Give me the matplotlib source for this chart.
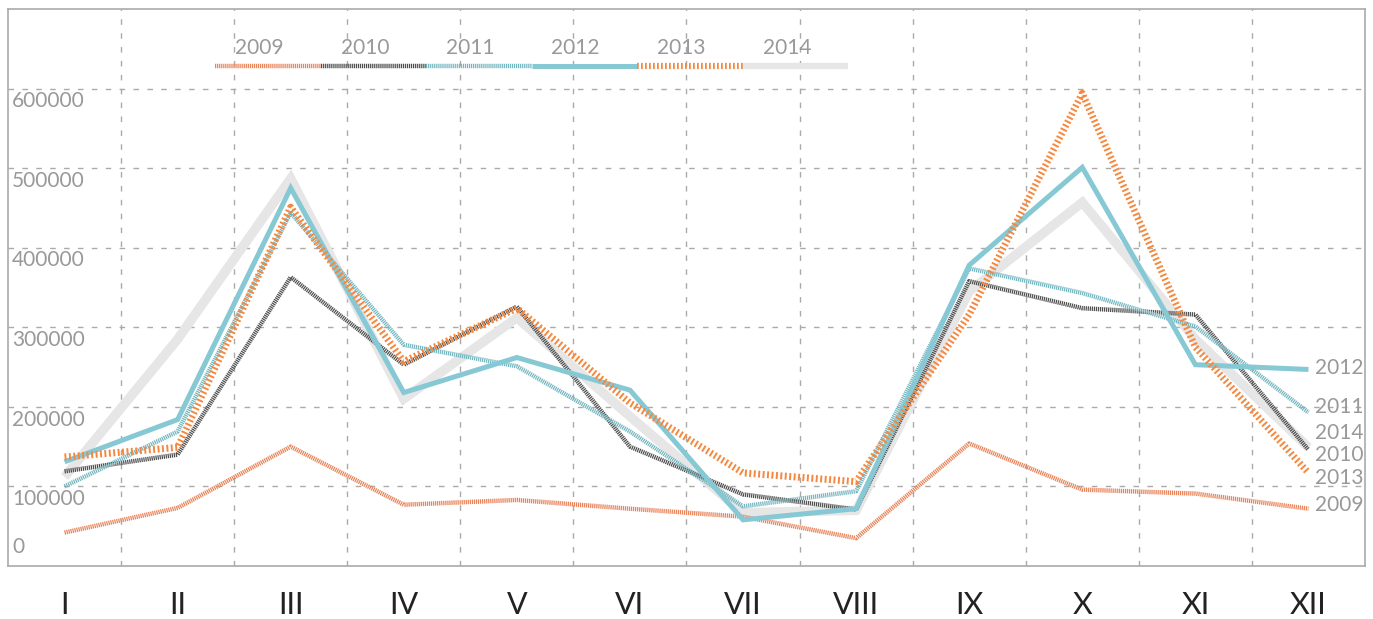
import matplotlib
matplotlib.use("Agg")
import matplotlib.pyplot as plt
from matplotlib.lines import Line2D

plt.rcParams['font.family'] = ['Lato', 'DejaVu Sans']

months = ["I", "II", "III", "IV", "V", "VI", "VII", "VIII", "IX", "X", "XI", "XII"]
years = ["2009", "2010", "2011", "2012", "2013", "2014"]

v2009 = [42000, 73000, 150000, 77000, 83000, 72000, 62000, 35000, 154000, 96000, 91000, 72000]
v2010 = [119000, 140000, 363000, 253000, 326000, 150000, 90000, 71000, 358000, 324000, 316000, 146000]
v2011 = [100000, 169000, 444000, 278000, 251000, 169000, 75000, 94000, 374000, 343000, 301000, 193000]
v2012 = [131000, 184000, 475000, 218000, 262000, 221000, 58000, 72000, 378000, 501000, 253000, 247000]
v2013 = [137000, 149000, 451000, 257000, 324000, 205000, 117000, 106000, 316000, 594000, 275000, 117000]
v2014 = [112000, 285000, 487000, 210000, 312000, 188000, 67000, 70000, 345000, 457000, 285000, 149000]

yticks = [100000, 200000, 300000, 400000, 500000, 600000]

# style per year: color, width, dashes (None = solid)
styles = {
    "2009": ("#e8845a", 3.2, (0.28, 0.18)),
    "2010": ("#4e4e4e", 3.2, (0.28, 0.18)),
    "2011": ("#74b6c0", 3.2, (0.28, 0.18)),
    "2012": ("#86c8d4", 3.6, None),
    "2013": ("#f5883e", 5.0, (0.28, 0.36)),
    "2014": ("#e6e6e7", 6.8, None),
}
series = {"2009": v2009, "2010": v2010, "2011": v2011,
          "2012": v2012, "2013": v2013, "2014": v2014}
draw_order = ["2014", "2009", "2010", "2011", "2012", "2013"]
# right-side label heights (positions, nudged apart)
label_pos = {"2012": 249000, "2011": 200000, "2014": 167000,
             "2010": 140000, "2013": 110000, "2009": 77000}

fig = plt.figure(figsize=(13.73, 6.19), dpi=100)
ax = fig.add_axes([8/1373, 1 - 566/619, 1357/1373, 557/619])

x = list(range(len(months)))
for yr in draw_order:
    c, lw, d = styles[yr]
    kw = dict(color=c, lw=lw, solid_joinstyle="miter", solid_capstyle="butt")
    if d is not None:
        kw["dashes"] = d
        kw["dash_capstyle"] = "butt"
    ax.plot(x, series[yr], **kw)

for yr, pos in label_pos.items():
    ax.text(11.06, pos, yr, fontsize=15, color="#999999", va="center", ha="left")

ax.set_xlim(-0.5, 11.5)
ax.set_ylim(0, 700000)
ax.set_xticks(x)
ax.set_xticklabels(months, fontsize=22, color="#222222")
ax.set_xticks([i + 0.5 for i in range(11)], minor=True)
ax.tick_params(axis="x", which="both", length=0, pad=18)
ax.set_yticks(yticks)
ax.set_yticklabels([])
ax.tick_params(axis="y", length=0)
ax.grid(True, which="minor", axis="x", color="#aaaaaa", linestyle=(0, (4, 6)), lw=1)
ax.grid(True, which="major", axis="y", color="#aaaaaa", linestyle=(0, (4, 6)), lw=1)
ax.set_axisbelow(True)
for s in ax.spines.values():
    s.set_color("#aaaaaa")
    s.set_linewidth(1.2)

# y labels sit inside the plot, just below each gridline
for v in yticks:
    ax.text(0.003, v - 16000, str(v), transform=ax.get_yaxis_transform(),
            fontsize=15, color="#999999", va="center", ha="left")
ax.text(0.003, 24000, "0", transform=ax.get_yaxis_transform(),
        fontsize=15, color="#999999", va="center", ha="left")

# legend across the top
x0, w = 215 / 1373, 105.5 / 1373
for i, yr in enumerate(years):
    c, lw, d = styles[yr]
    lx = x0 + i * w
    ln = Line2D([lx, lx + w], [1 - 66/619] * 2, transform=fig.transFigure,
                color=c, lw=min(lw, 4.5), solid_capstyle="butt")
    if d is not None:
        ln.set_dashes(d)
        ln.set_dash_capstyle("butt")
    fig.add_artist(ln)
    fig.text(lx + 20/1373, 1 - 48/619, yr, fontsize=15, color="#999999",
             va="center", ha="left")

fig.savefig("out.png", dpi=100)
